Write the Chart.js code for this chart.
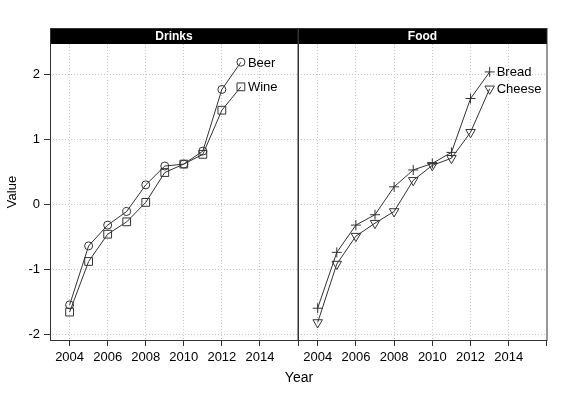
<!DOCTYPE html>
<html>
<head>
<meta charset="utf-8">
<script src="https://cdn.jsdelivr.net/npm/chart.js@4/dist/chart.umd.min.js"></script>
<style>
  html, body { margin: 0; padding: 0; background: #fff; }
  #wrap { position: relative; width: 570px; height: 395px; }
  #wrap canvas { position: absolute; left: 0; top: 0; }
</style>
</head>
<body>
<div id="wrap">
  <canvas id="DrinksChart" width="570" height="395"></canvas>
  <canvas id="FoodChart" width="570" height="395"></canvas>
</div>
<script>
// data
const years = [2004, 2005, 2006, 2007, 2008, 2009, 2010, 2011, 2012, 2013];
const beer   = [-1.55, -0.64, -0.32, -0.11, 0.30, 0.59, 0.62, 0.82, 1.77, 2.19];
const wine   = [-1.66, -0.88, -0.46, -0.27, 0.03, 0.49, 0.62, 0.77, 1.45, 1.81];
const bread  = [-1.60, -0.74, -0.32, -0.16, 0.27, 0.53, 0.63, 0.80, 1.63, 2.04];
const cheese = [-1.82, -0.92, -0.49, -0.29, -0.11, 0.37, 0.60, 0.71, 1.11, 1.78];
const xTicks = [2004, 2006, 2008, 2010, 2012, 2014];
const yTicks = [-2, -1, 0, 1, 2];
const panelTitles = ['Drinks', 'Food'];

Chart.defaults.font.family = '"Liberation Sans", Arial, Helvetica, sans-serif';
Chart.defaults.color = '#000';

function series(label, values, style, radius, rotation) {
  return {
    label: label,
    data: years.map((yr, i) => ({ x: yr, y: values[i] })),
    borderColor: '#333',
    borderWidth: 1,
    pointStyle: style,
    pointRadius: radius,
    pointRotation: rotation || 0,
    pointBorderColor: '#333',
    pointBackgroundColor: 'rgba(0,0,0,0)',
    pointBorderWidth: 1,
    tension: 0,
    fill: false
  };
}

// black strip with panel name, frame, and text next to the last point
const panelPlugin = {
  id: 'panel',
  afterDraw(chart, args, opts) {
    const ctx = chart.ctx;
    const a = chart.chartArea;
    ctx.save();
    ctx.fillStyle = '#000';
    ctx.fillRect(a.left, 29, a.right - a.left, 15);
    ctx.fillStyle = '#fff';
    ctx.font = 'bold 12px "Liberation Sans", Arial, sans-serif';
    ctx.textAlign = 'center';
    ctx.textBaseline = 'middle';
    ctx.fillText(opts.title, (a.left + a.right) / 2, 37);

    ctx.strokeStyle = '#333';
    ctx.lineWidth = 1;
    ctx.strokeRect(Math.round(a.left) + 0.5, 28.5, Math.round(a.right - a.left) - 0.5, Math.round(a.bottom) - 28);
    // little ticks under the panel edges
    ctx.beginPath();
    if (opts.edgeTicks) {
      ctx.moveTo(Math.round(a.left) + 0.5, a.bottom);
      ctx.lineTo(Math.round(a.left) + 0.5, a.bottom + 6);
      ctx.moveTo(Math.round(a.right) - 0.5, a.bottom);
      ctx.lineTo(Math.round(a.right) - 0.5, a.bottom + 6);
    }
    ctx.stroke();

    ctx.fillStyle = '#000';
    ctx.font = '13px "Liberation Sans", Arial, sans-serif';
    ctx.textAlign = 'left';
    chart.data.datasets.forEach((ds, i) => {
      const pts = chart.getDatasetMeta(i).data;
      const p = pts[pts.length - 1];
      ctx.fillText(ds.label, p.x + 7, p.y + 1);
    });

    if (opts.xTitle) {
      ctx.font = '14px "Liberation Sans", Arial, sans-serif';
      ctx.textAlign = 'center';
      ctx.fillText(opts.xTitle, 299, 378);
    }
    ctx.restore();
  }
};

function makeOptions(isLeft, title) {
  return {
    responsive: false,
    animation: false,
    layout: {
      padding: isLeft ? { top: 44, right: 272, bottom: 0, left: 0 }
                      : { top: 44, right: 23, bottom: 0, left: 298 }
    },
    plugins: {
      legend: { display: false },
      tooltip: { enabled: false },
      panel: { title: title, xTitle: isLeft ? 'Year' : null, edgeTicks: !isLeft }
    },
    scales: {
      x: {
        type: 'linear',
        min: 2002.97,
        max: 2016.0,
        afterBuildTicks: s => { s.ticks = xTicks.map(v => ({ value: v })); },
        afterFit: s => { s.height = 55; },
        ticks: {
          font: { size: 13 },
          padding: 4,
          maxRotation: 0,
          autoSkip: false,
          callback: v => String(v)
        },
        grid: {
          color: '#c8c8c8',
          drawTicks: true,
          tickLength: 6,
          tickColor: '#333',
          tickBorderDash: []
        },
        border: { display: false, dash: [1, 2] }
      },
      y: {
        type: 'linear',
        min: -2.09,
        max: 2.47,
        afterBuildTicks: s => { s.ticks = yTicks.map(v => ({ value: v })); },
        afterFit: s => { s.width = isLeft ? 50 : 0; },
        ticks: {
          display: isLeft,
          font: { size: 13 },
          padding: 4,
          callback: v => String(v)
        },
        title: {
          display: isLeft,
          text: 'Value',
          font: { size: 13 },
          padding: { top: 5, bottom: 0 }
        },
        grid: {
          color: '#c8c8c8',
          drawTicks: isLeft,
          tickLength: 6,
          tickColor: '#333',
          tickBorderDash: []
        },
        border: { display: false, dash: [1, 2] }
      }
    }
  };
}

new Chart(document.getElementById('DrinksChart').getContext('2d'), {
  type: 'line',
  data: {
    datasets: [
      series('Beer', beer, 'circle', 4),
      series('Wine', wine, 'rect', 5.5)
    ]
  },
  options: makeOptions(true, panelTitles[0]),
  plugins: [panelPlugin]
});

new Chart(document.getElementById('FoodChart').getContext('2d'), {
  type: 'line',
  data: {
    datasets: [
      series('Bread', bread, 'cross', 5),
      series('Cheese', cheese, 'triangle', 5.5, 180)
    ]
  },
  options: makeOptions(false, panelTitles[1]),
  plugins: [panelPlugin]
});
</script>
</body>
</html>
